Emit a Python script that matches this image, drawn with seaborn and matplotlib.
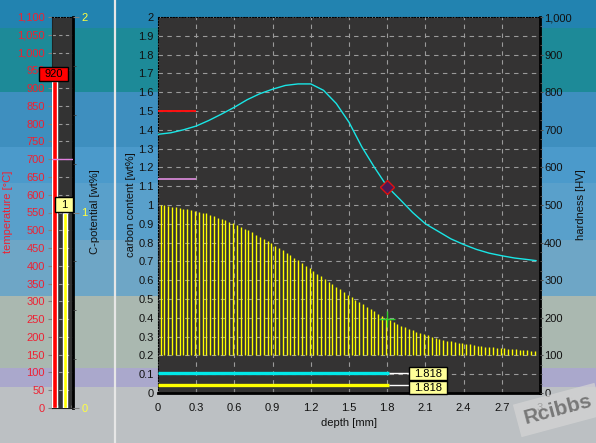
import matplotlib
matplotlib.use("Agg")
import numpy as np
import pandas as pd
import matplotlib.pyplot as plt
import seaborn as sns
from matplotlib.patches import Rectangle
from matplotlib.transforms import ScaledTranslation
from matplotlib.ticker import FuncFormatter, MultipleLocator

# valores
depth = [0.02, 0.05, 0.08, 0.11, 0.14, 0.17, 0.20, 0.23, 0.26, 0.29,
         0.32, 0.35, 0.38, 0.41, 0.44, 0.47, 0.50, 0.53, 0.56, 0.59,
         0.62, 0.65, 0.68, 0.71, 0.74, 0.77, 0.80, 0.83, 0.86, 0.89,
         0.92, 0.95, 0.98, 1.01, 1.04, 1.07, 1.10, 1.13, 1.16, 1.19,
         1.22, 1.25, 1.28, 1.31, 1.34, 1.37, 1.40, 1.43, 1.46, 1.49,
         1.52, 1.55, 1.58, 1.61, 1.64, 1.67, 1.70, 1.73, 1.76, 1.79,
         1.82, 1.85, 1.88, 1.91, 1.94, 1.97, 2.00, 2.03, 2.06, 2.09,
         2.12, 2.15, 2.18, 2.21, 2.24, 2.27, 2.30, 2.33, 2.36, 2.39,
         2.42, 2.45, 2.48, 2.51, 2.54, 2.57, 2.60, 2.63, 2.66, 2.69,
         2.72, 2.75, 2.78, 2.81, 2.84, 2.87, 2.90, 2.93, 2.96]
carbon = [1.00, 1.00, 0.995, 0.99, 0.988, 0.985, 0.98, 0.977, 0.973, 0.97,
          0.965, 0.96, 0.955, 0.948, 0.94, 0.933, 0.926, 0.918, 0.91, 0.902,
          0.893, 0.884, 0.875, 0.865, 0.854, 0.843, 0.832, 0.82, 0.808, 0.796,
          0.784, 0.771, 0.758, 0.745, 0.732, 0.718, 0.705, 0.691, 0.677, 0.663,
          0.649, 0.635, 0.621, 0.607, 0.593, 0.579, 0.565, 0.551, 0.537, 0.523,
          0.51, 0.497, 0.484, 0.471, 0.458, 0.446, 0.434, 0.422, 0.41, 0.399,
          0.388, 0.378, 0.368, 0.359, 0.35, 0.342, 0.334, 0.326, 0.319, 0.312,
          0.306, 0.30, 0.294, 0.289, 0.284, 0.279, 0.275, 0.271, 0.267, 0.264,
          0.261, 0.258, 0.255, 0.252, 0.25, 0.247, 0.245, 0.243, 0.241, 0.239,
          0.237, 0.235, 0.233, 0.232, 0.23, 0.229, 0.227, 0.226, 0.225]
core_carbon = 0.2

hard_depth = [0.0, 0.1, 0.2, 0.3, 0.4, 0.5, 0.6, 0.7, 0.8, 0.9,
              1.0, 1.1, 1.2, 1.3, 1.4, 1.5, 1.6, 1.7, 1.8, 1.9,
              2.0, 2.1, 2.2, 2.3, 2.4, 2.5, 2.6, 2.7, 2.8, 2.9, 2.97]
hardness = [688, 692, 700, 710, 725, 742, 760, 780, 796, 808,
            818, 822, 822, 805, 770, 720, 655, 600, 549, 515,
            480, 450, 430, 410, 395, 382, 372, 365, 359, 355, 352]

temperature = 920      # °C
c_potential = 1.0      # wt%
set_temp = 700         # linea rosa en la columna
surface_c_target = 1.5
carbon_limit = 1.14
marker_depth = 1.8
marker_hv = 549
marker_c = 0.395
eht_value = 1.818
eht_rows = {'cyan': 0.108, 'yellow': 0.04}

x_ticks = [0, 0.3, 0.6, 0.9, 1.2, 1.5, 1.8, 2.1, 2.4, 2.7, 3]

# fondo a bandas (captura de pantalla)
bands = [(0, 28, '#2283b0'), (28, 92, '#1d8a98'), (92, 147, '#3e8fbf'),
         (147, 183, '#4b9acb'), (183, 240, '#59a0cb'), (240, 296, '#6ea6c6'),
         (296, 368, '#aab8b0'), (368, 387, '#aaa8cc'), (387, 443, '#bcc0c3')]

sns.set_style('ticks')
plt.rcParams['font.family'] = ['Liberation Sans', 'DejaVu Sans']
plt.rcParams['font.size'] = 8

W, H = 596, 443
fig = plt.figure(figsize=(W / 100, H / 100), dpi=100)

bg = fig.add_axes([0, 0, 1, 1], zorder=-10)
bg.set_xlim(0, W)
bg.set_ylim(H, 0)
for y0, y1, c in bands:
    bg.axhspan(y0, y1, color=c, lw=0)
bg.axvline(114.5, color='#e6e6e6', lw=1.6)
bg.axis('off')


def px(x0, y0, x1, y1):
    return [x0 / W, 1 - y1 / H, (x1 - x0) / W, (y1 - y0) / H]


def value_box(ax, x, y, s, fc, dx, dy, w, h):
    # caja de w x h pixeles desplazada dx, dy pixeles desde el punto (x, y)
    tr = fig.dpi_scale_trans + ScaledTranslation(x, y, ax.transData)
    ax.add_patch(Rectangle((dx / 100, dy / 100), w / 100, h / 100, transform=tr,
                           fc=fc, ec='black', lw=1, clip_on=False, zorder=8))
    ax.text((dx + w / 2) / 100, (dy + h / 2) / 100 - 0.005, s, transform=tr,
            ha='center', va='center', fontsize=8, color='black', zorder=9, clip_on=False)


fmt_thousands = FuncFormatter(lambda v, p: f'{int(round(v)):,}')
fmt_g = FuncFormatter(lambda v, p: f'{round(v, 2):g}')

# ---- columna izquierda: temperatura y potencial de carbono ----
axT = fig.add_axes(px(52, 17, 73, 408))
axT.set_facecolor('#333333')
axT.set_xlim(0, 1)
axT.set_ylim(0, 1100)
axT.bar([0.12], [temperature], width=0.24, color='#ff0000', zorder=3)
axT.axhline(set_temp, color='#e080e0', lw=1, zorder=4)
axT.set_yticks(np.arange(0, 1101, 50))
axT.yaxis.set_major_formatter(fmt_thousands)
axT.tick_params(axis='y', colors='#808080', labelcolor='#ee2233', length=3, pad=2, labelsize=8)
axT.set_xticks([0.1, 0.3, 0.5, 0.7, 0.9])
axT.tick_params(axis='x', labelbottom=False, length=2, color='#606060', direction='in')
axT.grid(axis='y', color='#9a9a9a', ls=(0, (3, 3)), lw=0.8)
axT.grid(axis='x', visible=False)
for side in ['left', 'bottom']:
    axT.spines[side].set_color('#222222')
axT.spines['top'].set_linestyle(':')
axT.spines['top'].set_color('black')
axT.spines['right'].set_color('black')
axT.spines['right'].set_linewidth(2)

axC = axT.twinx()
axC.set_ylim(0, 2)
axC.bar([0.605], [c_potential], width=0.19, color='#ffff00', zorder=3)
axC.set_yticks([0, 1, 2])
axC.yaxis.set_major_formatter(fmt_g)
axC.yaxis.set_minor_locator(MultipleLocator(0.25))
axC.tick_params(axis='y', which='major', colors='#808080', labelcolor='#ffff40', length=4, pad=2, labelsize=8)
axC.tick_params(axis='y', which='minor', colors='#404040', length=2)
for s in axC.spines.values():
    s.set_visible(False)

value_box(axT, 0, temperature, '920', '#ff0000', -13, 0, 29, 14)
value_box(axC, 0, c_potential, '1', '#ffff99', 3, 0, 18, 15)

fig.text(8.5 / W, 1 - 212 / H, 'temperature [°C]', rotation=90, color='#ee2233',
         ha='center', va='center', fontsize=8)
fig.text(95 / W, 1 - 212 / H, 'C-potential [wt%]', rotation=90, color='#111111',
         ha='center', va='center', fontsize=8)

# ---- grafico principal ----
ax = fig.add_axes(px(158, 17, 540, 393))
ax.set_facecolor('#343333')
ax.set_xlim(0, 3)
ax.set_ylim(0, 2)

ax.vlines(depth, core_carbon, carbon, color='#ffff00', lw=1.0, zorder=3)
ax.hlines(surface_c_target, 0, 0.3, color='#ff1010', lw=1.4, zorder=3)
ax.hlines(carbon_limit, 0, 0.3, color='#e08ee0', lw=1.2, zorder=3)

label_x = 1.97
ax.hlines(eht_rows['cyan'], 0, eht_value, color='#00e8e8', lw=2.4, zorder=3)
ax.hlines(eht_rows['yellow'], 0, eht_value, color='#ffff00', lw=2.4, zorder=3)
for y in eht_rows.values():
    ax.hlines(y, eht_value, label_x, color='white', lw=1, zorder=3)
value_box(ax, label_x, eht_rows['cyan'], f'{eht_value:.3f}', '#ffff99', 0, -7, 38, 13)
value_box(ax, label_x, eht_rows['yellow'], f'{eht_value:.3f}', '#ffff99', 0, -9, 38, 13)

ax.plot([marker_depth], [marker_c], marker='+', ms=12, mew=1, color='#30d030', ls='none', zorder=6)

ax.set_xticks(x_ticks)
ax.set_yticks(np.round(np.arange(0, 2.01, 0.1), 1))
ax.xaxis.set_major_formatter(fmt_g)
ax.yaxis.set_major_formatter(fmt_g)
ax.grid(True, color='#9a9a9a', ls=(0, (4, 4)), lw=0.8, zorder=1)
ax.set_axisbelow(True)
ax.tick_params(axis='x', direction='in', length=3, color='#888888', pad=7, labelsize=8, labelcolor='#111111')
ax.tick_params(axis='y', length=0, pad=3, labelsize=8, labelcolor='#111111')
ax.set_xlabel('depth [mm]', fontsize=8, labelpad=4, color='#111111')
for side in ['left', 'top']:
    ax.spines[side].set_linestyle(':')
    ax.spines[side].set_color('black')
for side in ['right', 'bottom']:
    ax.spines[side].set_color('black')
    ax.spines[side].set_linewidth(2)

ax2 = ax.twinx()
ax2.set_ylim(0, 1000)
hv = pd.DataFrame({'depth': hard_depth, 'hardness': hardness})
sns.lineplot(data=hv, x='depth', y='hardness', ax=ax2, color='#19e6e6', lw=1, zorder=4)
ax2.plot([marker_depth], [marker_hv], marker='D', ms=7, mfc='#4a1a55', mec='#e01010', mew=1, ls='none', zorder=5)
ax2.set_yticks(np.arange(0, 1001, 100))
ax2.yaxis.set_major_formatter(fmt_thousands)
ax2.yaxis.set_minor_locator(MultipleLocator(25))
ax2.tick_params(axis='y', which='major', length=2, pad=1, labelsize=8, labelcolor='#111111', color='#555555')
ax2.tick_params(axis='y', which='minor', length=1.5, color='#666666')
ax2.set_ylabel('')
ax2.set_xlabel('')
for s in ax2.spines.values():
    s.set_visible(False)

fig.text(130.5 / W, 1 - 205 / H, 'carbon content [wt%]', rotation=90, color='#111111',
         ha='center', va='center', fontsize=8)
fig.text(580.5 / W, 1 - 205 / H, 'hardness [HV]', rotation=90, color='#111111',
         ha='center', va='center', fontsize=8)

# marca de agua
fig.text(558 / W, 1 - 410 / H, 'Rcibbs', rotation=15, fontsize=15, fontweight='bold',
         color='#787878', ha='center', va='center', zorder=20,
         bbox=dict(boxstyle='square,pad=0.35', fc='#d4d4d4', ec='none', alpha=0.75))

fig.savefig('out.png', dpi=100)
